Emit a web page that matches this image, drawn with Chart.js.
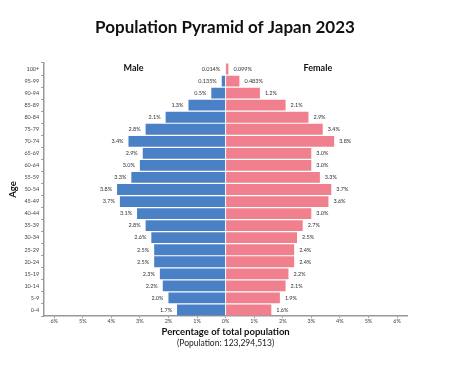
<!DOCTYPE html>
<html>
<head>
<meta charset="utf-8">
<script src="https://cdn.jsdelivr.net/npm/chart.js@4/dist/chart.umd.min.js"></script>
<style>
html,body{margin:0;padding:0;background:#fff;}
#wrap{width:450px;height:377px;position:relative;}
</style>
</head>
<body>
<div id="wrap"><canvas id="c" width="450" height="377"></canvas></div>
<script>
const ageGroups = ['100+','95-99','90-94','85-89','80-84','75-79','70-74','65-69','60-64','55-59','50-54','45-49','40-44','35-39','30-34','25-29','20-24','15-19','10-14','5-9','0-4'];
const malePct = [0.014,0.135,0.5,1.3,2.1,2.8,3.4,2.9,3.0,3.3,3.8,3.7,3.1,2.8,2.6,2.5,2.5,2.3,2.2,2.0,1.7];
const femalePct = [0.099,0.483,1.2,2.1,2.9,3.4,3.8,3.0,3.0,3.3,3.7,3.6,3.0,2.7,2.5,2.4,2.4,2.2,2.1,1.9,1.6];
const xTicks = [-6,-5,-4,-3,-2,-1,0,1,2,3,4,5,6];
const titleText = 'Population Pyramid of Japan 2023';
const subtitleText = '(Population: 123,294,513)';

const FONT = "Lato, 'DejaVu Sans', sans-serif";

function fmt(v){ return (v < 0.49 ? v.toFixed(3) : v.toFixed(1)) + '%'; }

const labelPlugin = {
  id: 'barLabels',
  afterDatasetsDraw(chart){
    const ctx = chart.ctx;
    ctx.save();
    ctx.font = "5.5px " + FONT;
    ctx.fillStyle = '#333';
    ctx.textBaseline = 'middle';
    chart.data.datasets.forEach((ds, i) => {
      const meta = chart.getDatasetMeta(i);
      const src = i === 0 ? malePct : femalePct;
      meta.data.forEach((bar, j) => {
        const t = fmt(src[j]);
        if (i === 0) { ctx.textAlign = 'right'; ctx.fillText(t, bar.x - 5, bar.y); }
        else { ctx.textAlign = 'left'; ctx.fillText(t, bar.x + 5, bar.y); }
      });
    });
    const xs = chart.scales.x;
    const top = chart.chartArea.top;
    ctx.font = "bold 9px " + FONT;
    ctx.fillStyle = '#111';
    ctx.textAlign = 'center';
    ctx.fillText('Male', xs.getPixelForValue(-3.22), top + 5);
    ctx.fillText('Female', xs.getPixelForValue(3.23), top + 5);
    ctx.font = "bold 17px " + FONT;
    ctx.fillText(titleText, 225, 28);
    ctx.font = "8.5px " + FONT;
    ctx.fillStyle = '#222';
    ctx.fillText(subtitleText, (chart.chartArea.left + chart.chartArea.right) / 2, 343);
    ctx.restore();
  }
};

new Chart(document.getElementById('c'), {
  type: 'bar',
  data: {
    labels: ageGroups,
    datasets: [
      { label: 'Male', data: malePct.map(v => -v), backgroundColor: '#4a80c6', stack: 's', barPercentage: 0.9, categoryPercentage: 1.0 },
      { label: 'Female', data: femalePct, backgroundColor: '#f0808d', stack: 's', barPercentage: 0.9, categoryPercentage: 1.0 }
    ]
  },
  options: {
    responsive: false,
    animation: false,
    indexAxis: 'y',
    layout: { padding: { left: 7, right: 43, top: 63, bottom: 38 } },
    plugins: {
      legend: { display: false },
      tooltip: { enabled: false },
      title: { display: false }
    },
    scales: {
      x: {
        stacked: true,
        min: -6.35, max: 6.35,
        afterBuildTicks(axis){ axis.ticks = xTicks.map(v => ({ value: v })); },
        grid: { display: true, drawOnChartArea: false, drawTicks: true, tickLength: 2, color: '#999' },
        border: { display: true, color: '#999', width: 1.5 },
        ticks: { color: '#444', font: { family: FONT, size: 5.5 }, padding: 0, callback: v => Math.abs(v) + '%' },
        title: { display: true, text: 'Percentage of total population', color: '#111', font: { family: FONT, size: 9.5, weight: 'bold' }, padding: { top: 2, bottom: 1 } }
      },
      y: {
        stacked: true,
        grid: { display: true, drawOnChartArea: false, drawTicks: true, tickLength: 3, color: '#999' },
        border: { display: true, color: '#999', width: 1.5 },
        ticks: { color: '#444', font: { family: FONT, size: 5.5 }, padding: 2, autoSkip: false },
        title: { display: true, text: 'Age', color: '#111', font: { family: FONT, size: 9.5, weight: 'bold' }, padding: { top: 0, bottom: 4 } }
      }
    }
  },
  plugins: [labelPlugin]
});
</script>
</body>
</html>
